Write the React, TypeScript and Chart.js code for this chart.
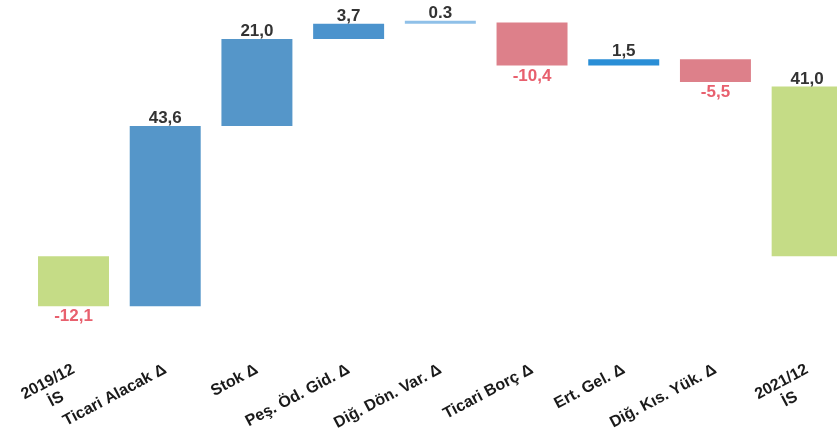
import React, { useEffect, useRef } from "react";
import { Chart, registerables } from "chart.js";

Chart.register(...registerables);

const categories: (string | string[])[] = [
  ["2019/12", "İS     "],
  "Ticari Alacak Δ",
  "Stok Δ",
  "Peş. Öd. Gid. Δ",
  "Diğ. Dön. Var. Δ",
  "Ticari Borç Δ",
  "Ert. Gel. Δ",
  "Diğ. Kıs. Yük. Δ",
  ["2021/12", "İS     "],
];
const startValue = -12.1;
const changes = [43.6, 21.0, 3.7, 0.3, -10.4, 1.5, -5.5];
const endValue = 41.0;
const valueLabels = ["-12,1", "43,6", "21,0", "3,7", "0.3", "-10,4", "1,5", "-5,5", "41,0"];
const barColors = [
  "#c5dc86",
  "#5596c9",
  "#5596c9",
  "#4b93cd",
  "#8fc0e8",
  "#dd808a",
  "#2a8ed6",
  "#dd808a",
  "#c5dc86",
];

export default function App() {
  const ref = useRef<HTMLCanvasElement | null>(null);

  useEffect(() => {
    if (!ref.current) return;
    const ranges: [number, number][] = [[0, startValue]];
    let cum = startValue;
    for (const c of changes) {
      ranges.push([cum, cum + c]);
      cum += c;
    }
    ranges.push([0, endValue]);

    const labelPlugin = {
      id: "valueLabels",
      afterDatasetsDraw(chart: any) {
        const ctx = chart.ctx;
        const meta = chart.getDatasetMeta(0);
        ctx.save();
        ctx.font = "bold 17px 'Liberation Sans', Arial, sans-serif";
        ctx.textAlign = "center";
        ctx.textBaseline = "alphabetic";
        meta.data.forEach((el: any, i: number) => {
          const top = Math.min(el.y, el.base);
          const bottom = Math.max(el.y, el.base);
          const txt = valueLabels[i];
          if (txt.startsWith("-")) {
            ctx.fillStyle = "#e8606e";
            ctx.fillText(txt, el.x, bottom + 15);
          } else {
            ctx.fillStyle = "#333333";
            ctx.fillText(txt, el.x, top - 3);
          }
        });
        ctx.restore();
      },
    };

    const chart = new Chart(ref.current, {
      type: "bar",
      data: {
        labels: categories,
        datasets: [
          {
            data: ranges as any,
            backgroundColor: barColors,
            borderWidth: 0,
            barPercentage: 0.86,
            categoryPercentage: 0.9,
            minBarLength: 3,
          },
        ],
      },
      options: {
        responsive: false,
        animation: false,
        layout: { padding: { left: 26, right: 7, top: 8, bottom: 0 } },
        plugins: {
          legend: { display: false },
          tooltip: { enabled: false },
        },
        scales: {
          x: {
            grid: { display: false, drawTicks: false },
            border: { display: false },
            ticks: {
              minRotation: 28,
              maxRotation: 28,
              padding: 21,
              color: "#1a1a1a",
              font: { family: "'Liberation Sans', Arial, sans-serif", size: 16, weight: "bold" },
            },
            afterFit: (scale: any) => {
              scale.height = 96;
            },
          },
          y: {
            display: false,
            min: -20,
            max: 60,
          },
        },
      },
      plugins: [labelPlugin],
    });
    return () => chart.destroy();
  }, []);

  return (
    <div style={{ position: "fixed", left: 0, top: 0, width: 837, height: 435, overflow: "hidden", background: "#fff" }}>
      <canvas ref={ref} width={860} height={435} style={{ display: "block" }} />
    </div>
  );
}
